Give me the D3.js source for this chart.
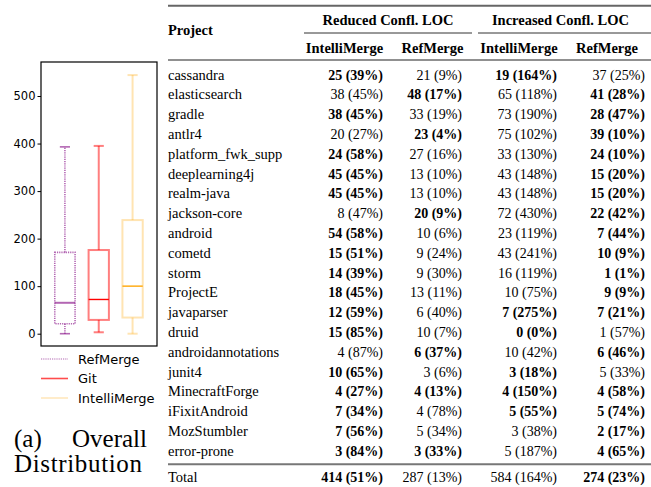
<!DOCTYPE html>
<html>
<head>
<meta charset="utf-8">
<script src="https://cdn.jsdelivr.net/npm/d3@7"></script>
<style>
  html, body { margin: 0; padding: 0; background: #fff; }
  svg { display: block; }
</style>
</head>
<body>
<div id="chart"></div>
<script>
// ---------- box plot data (Overall distribution) ----------
const boxSeries = ['RefMerge', 'Git', 'IntelliMerge'];
const whiskerLow = [0, 3, 0];
const quartile1 = [21, 29, 34];
const medians = [65, 72, 100];
const quartile3 = [171, 176, 239];
const whiskerHigh = [393, 395, 544];
const yTicks = [0, 100, 200, 300, 400, 500];

// ---------- table data ----------
const projects = ['cassandra', 'elasticsearch', 'gradle', 'antlr4', 'platform_fwk_supp',
  'deeplearning4j', 'realm-java', 'jackson-core', 'android', 'cometd', 'storm', 'ProjectE',
  'javaparser', 'druid', 'androidannotations', 'junit4', 'MinecraftForge', 'iFixitAndroid',
  'MozStumbler', 'error-prone'];
const groupHeaders = ['Reduced Confl. LOC', 'Increased Confl. LOC'];
const columnHeaders = ['IntelliMerge', 'RefMerge', 'IntelliMerge', 'RefMerge'];

// [count, percent]
const reducedIntelliMerge = [[25,39],[38,45],[38,45],[20,27],[24,58],[45,45],[45,45],[8,47],[54,58],[15,51],
  [14,39],[18,45],[12,59],[15,85],[4,87],[10,65],[4,27],[7,34],[7,56],[3,84]];
const reducedRefMerge = [[21,9],[48,17],[33,19],[23,4],[27,16],[13,10],[13,10],[20,9],[10,6],[9,24],
  [9,30],[13,11],[6,40],[10,7],[6,37],[3,6],[4,13],[4,78],[5,34],[3,33]];
const increasedIntelliMerge = [[19,164],[65,118],[73,190],[75,102],[33,130],[43,148],[43,148],[72,430],[23,119],[43,241],
  [16,119],[10,75],[7,275],[0,0],[10,42],[3,18],[4,150],[5,55],[3,38],[5,187]];
const increasedRefMerge = [[37,25],[41,28],[28,47],[39,10],[24,10],[15,20],[15,20],[22,42],[7,44],[10,9],
  [1,1],[9,9],[7,21],[1,57],[6,46],[5,33],[4,58],[5,74],[2,17],[4,65]];

// bold = better result in the row
const boldReducedIntelliMerge = [1,0,1,0,1,1,1,0,1,1,1,1,1,1,0,1,1,1,1,1];
const boldReducedRefMerge     = [0,1,0,1,0,0,0,1,0,0,0,0,0,0,1,0,1,0,0,1];
const boldIncreasedIntelliMerge = [1,0,0,0,0,0,0,0,0,0,0,0,1,1,0,1,1,1,0,0];
const boldIncreasedRefMerge     = [0,1,1,1,1,1,1,1,1,1,1,1,1,0,1,0,1,1,1,1];

const totals = [[414,51],[287,13],[584,164],[274,23]];
const boldTotals = [1,0,0,1];

// ---------- drawing ----------
const W = 651, H = 487;
const svg = d3.select('#chart').append('svg')
  .attr('width', W).attr('height', H);

const sans = 'DejaVu Sans, sans-serif';
const serif = 'Liberation Serif, Times New Roman, serif';

// box plot
const frame = { left: 41, right: 157, top: 62, bottom: 346 };

const x = d3.scaleBand()
  .domain(boxSeries)
  .range([48, 149.5]);

const y = d3.scaleLinear()
  .domain([0, 500])
  .range([333.7, 96]);

const styles = {
  RefMerge: { color: '#800080', opacity: 0.6, dash: '1.2,1', width: 1.6, medOpacity: 0.6, medWidth: 2, legWidth: 1.2 },
  Git: { color: '#ff0000', opacity: 0.5, dash: null, width: 2, medOpacity: 1, medWidth: 1.4, legWidth: 1.6 },
  IntelliMerge: { color: '#ffa500', opacity: 0.3, dash: null, width: 2, medOpacity: 0.85, medWidth: 1.6, legWidth: 1.4 }
};

const plot = svg.append('g');

plot.append('rect')
  .attr('x', frame.left).attr('y', frame.top)
  .attr('width', frame.right - frame.left)
  .attr('height', frame.bottom - frame.top)
  .attr('fill', 'none').attr('stroke', '#000').attr('stroke-width', 1.2);

const yAxis = plot.append('g')
  .attr('transform', `translate(${frame.left},0)`)
  .call(d3.axisLeft(y).tickValues(yTicks).tickSize(3.5).tickPadding(2));
yAxis.select('.domain').remove();
yAxis.selectAll('text').style('font-family', sans).style('font-size', '11.5px').attr('fill', '#000');
yAxis.selectAll('line').attr('stroke', '#000');

const boxWidth = x.bandwidth() * 0.6;
const capWidth = boxWidth * 0.5;

boxSeries.forEach((name, i) => {
  const s = styles[name];
  const cx = x(name) + x.bandwidth() / 2;
  const g = plot.append('g')
    .attr('stroke', s.color)
    .attr('stroke-width', s.width)
    .attr('fill', 'none');

  const part = g.append('g').attr('stroke-opacity', s.opacity);
  if (s.dash) part.attr('stroke-dasharray', s.dash);

  // whiskers
  part.append('line')
    .attr('x1', cx).attr('x2', cx)
    .attr('y1', y(quartile3[i])).attr('y2', y(whiskerHigh[i]));
  part.append('line')
    .attr('x1', cx).attr('x2', cx)
    .attr('y1', y(quartile1[i])).attr('y2', y(whiskerLow[i]));
  // caps (solid)
  [whiskerHigh[i], whiskerLow[i]].forEach(v => {
    g.append('line')
      .attr('stroke-opacity', s.opacity)
      .attr('x1', cx - capWidth / 2).attr('x2', cx + capWidth / 2)
      .attr('y1', y(v)).attr('y2', y(v));
  });
  // box
  part.append('rect')
    .attr('x', cx - boxWidth / 2)
    .attr('width', boxWidth)
    .attr('y', y(quartile3[i]))
    .attr('height', y(quartile1[i]) - y(quartile3[i]));
  // median
  g.append('line')
    .attr('stroke-opacity', s.medOpacity)
    .attr('stroke-width', s.medWidth)
    .attr('x1', cx - boxWidth / 2).attr('x2', cx + boxWidth / 2)
    .attr('y1', y(medians[i])).attr('y2', y(medians[i]));
});

// legend
const legendY = d3.scalePoint().domain(boxSeries).range([359, 398]);
boxSeries.forEach(name => {
  const s = styles[name];
  const ly = legendY(name);
  const line = plot.append('line')
    .attr('x1', 41).attr('x2', 68)
    .attr('y1', ly).attr('y2', ly)
    .attr('stroke', s.color)
    .attr('stroke-width', s.legWidth)
    .attr('stroke-opacity', name === 'Git' ? 0.7 : s.opacity);
  if (s.dash) line.attr('stroke-dasharray', s.dash);
  plot.append('text')
    .attr('x', 78).attr('y', ly + 4.6)
    .style('font-family', sans).style('font-size', '13px')
    .text(name);
});

// caption
const caption = plot.append('g').style('font-family', serif).style('font-size', '25px').attr('fill', '#000');
caption.append('text').attr('x', 14).attr('y', 447).text('(a)');
caption.append('text').attr('x', 147).attr('y', 447).attr('text-anchor', 'end').text('Overall');
caption.append('text').attr('x', 14).attr('y', 472).attr('textLength', 128).text('Distribution');

// table
const table = svg.append('g').style('font-family', serif).attr('fill', '#000');
const tableLeft = 168, tableRight = 651;
const colRight = [383, 462, 557, 645];
const colCenter = [344.5, 432.5, 519, 607];
const groupSpan = [[304, 472], [478, 651]];

const rowY = d3.scaleBand().domain(projects).range([64.8, 460.8]);
const baseline = p => rowY(p) + rowY.bandwidth() / 2 + 4.8;

// rules
const rule = (y0, x0, x1, w, c) => table.append('line')
  .attr('x1', x0).attr('x2', x1).attr('y1', y0).attr('y2', y0)
  .attr('stroke', c).attr('stroke-width', w);
rule(5.7, tableLeft, tableRight, 2, '#666');
groupSpan.forEach(s => rule(33, s[0], s[1], 1, '#333'));
rule(60, tableLeft, tableRight, 1.2, '#222');
rule(464.3, tableLeft, tableRight, 2, '#777');

// headers
table.append('text')
  .attr('x', tableLeft).attr('y', 35)
  .style('font-size', '14.5px').style('font-weight', 'bold')
  .text('Project');
groupHeaders.forEach((t, i) => {
  table.append('text')
    .attr('x', (groupSpan[i][0] + groupSpan[i][1]) / 2 - (i === 1 ? 4 : 0))
    .attr('y', 25)
    .attr('text-anchor', 'middle')
    .style('font-size', '14.5px').style('font-weight', 'bold')
    .text(t);
});
columnHeaders.forEach((t, i) => {
  table.append('text')
    .attr('x', colCenter[i]).attr('y', 52.5)
    .attr('text-anchor', 'middle')
    .style('font-size', '14.5px').style('font-weight', 'bold')
    .text(t);
});

// body
const columns = [reducedIntelliMerge, reducedRefMerge, increasedIntelliMerge, increasedRefMerge];
const boldCols = [boldReducedIntelliMerge, boldReducedRefMerge, boldIncreasedIntelliMerge, boldIncreasedRefMerge];
const fmt = d => `${d[0]} (${d[1]}%)`;

table.selectAll('.proj')
  .data(projects)
  .join('text')
  .attr('class', 'proj')
  .attr('x', tableLeft)
  .attr('y', d => baseline(d))
  .style('font-size', '14.5px')
  .text(d => d);

columns.forEach((col, c) => {
  table.selectAll(`.c${c}`)
    .data(col)
    .join('text')
    .attr('class', `c${c}`)
    .attr('x', colRight[c])
    .attr('y', (d, i) => baseline(projects[i]))
    .attr('text-anchor', 'end')
    .style('font-size', '14px')
    .style('font-weight', (d, i) => boldCols[c][i] ? 'bold' : 'normal')
    .text(fmt);
});

// total row
const totalY = 482;
table.append('text')
  .attr('x', tableLeft).attr('y', totalY)
  .style('font-size', '14.5px')
  .text('Total');
totals.forEach((d, c) => {
  table.append('text')
    .attr('x', colRight[c]).attr('y', totalY)
    .attr('text-anchor', 'end')
    .style('font-size', '14px')
    .style('font-weight', boldTotals[c] ? 'bold' : 'normal')
    .text(fmt(d));
});
</script>
</body>
</html>
